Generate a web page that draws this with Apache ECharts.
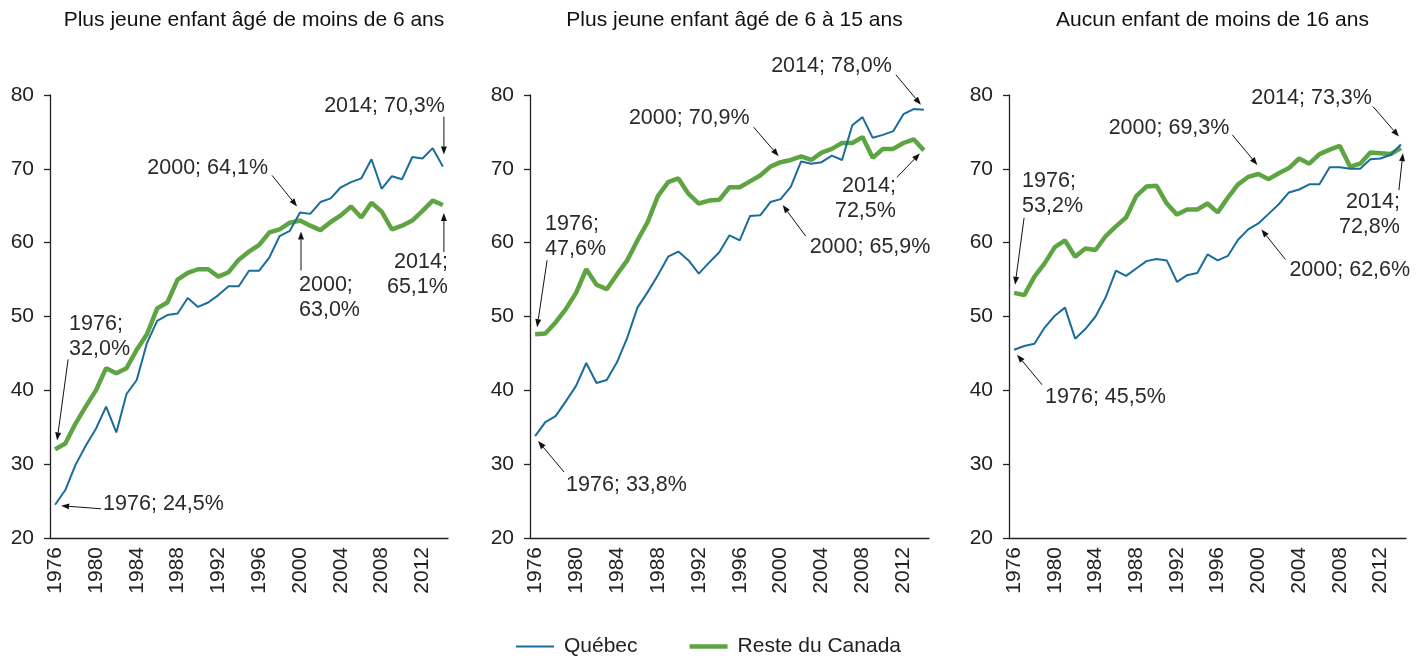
<!DOCTYPE html>
<html>
<head>
<meta charset="utf-8">
<script src="https://cdn.jsdelivr.net/npm/echarts@6/dist/echarts.min.js"></script>
<style>
  html, body { margin: 0; padding: 0; background: #fff; }
  #chart { width: 1426px; height: 656px; }
</style>
</head>
<body>
<div id="chart"></div>
<script>
// années 1976 à 2014
const years = [];
for (let y = 1976; y <= 2014; y++) years.push(String(y));

const titles = [
  'Plus jeune enfant âgé de moins de 6 ans',
  'Plus jeune enfant âgé de 6 à 15 ans',
  'Aucun enfant de moins de 16 ans'
];

// Plus jeune enfant < 6 ans
const quebecMoins6 = [24.5, 26.5, 29.9, 32.5, 34.8, 37.8, 34.3, 39.5, 41.4, 46.4, 49.4, 50.2, 50.4, 52.5, 51.3, 51.9, 52.9, 54.1, 54.1, 56.2, 56.2, 58.0, 60.9, 61.6, 64.1, 63.9, 65.5, 66.0, 67.5, 68.2, 68.7, 71.3, 67.3, 69.0, 68.6, 71.6, 71.4, 72.8, 70.3];
const rcMoins6 = [32.0, 32.8, 35.5, 37.8, 40.0, 43.0, 42.3, 43.0, 45.5, 47.6, 51.1, 51.9, 55.0, 55.9, 56.4, 56.4, 55.4, 56.0, 57.7, 58.8, 59.7, 61.4, 61.8, 62.7, 63.0, 62.3, 61.7, 62.8, 63.7, 64.9, 63.4, 65.4, 64.2, 61.8, 62.3, 63.0, 64.3, 65.7, 65.1];

// Plus jeune enfant 6 à 15 ans
const quebec6a15 = [33.8, 35.7, 36.5, 38.5, 40.6, 43.7, 41.0, 41.4, 43.8, 47.1, 51.2, 53.3, 55.6, 58.1, 58.8, 57.6, 55.8, 57.3, 58.7, 61.0, 60.3, 63.6, 63.7, 65.5, 65.9, 67.6, 71.0, 70.7, 70.9, 71.8, 71.2, 75.9, 77.0, 74.2, 74.6, 75.1, 77.4, 78.1, 78.0];
const rc6a15 = [47.6, 47.7, 49.2, 51.0, 53.2, 56.4, 54.3, 53.7, 55.7, 57.6, 60.3, 62.8, 66.3, 68.2, 68.7, 66.6, 65.3, 65.7, 65.8, 67.5, 67.5, 68.3, 69.1, 70.3, 70.9, 71.2, 71.7, 71.2, 72.2, 72.7, 73.5, 73.5, 74.3, 71.5, 72.7, 72.7, 73.5, 74.0, 72.5];

// Aucun enfant < 16 ans
const quebecAucun = [45.5, 46.0, 46.3, 48.5, 50.1, 51.2, 47.0, 48.3, 50.0, 52.6, 56.2, 55.5, 56.5, 57.5, 57.8, 57.6, 54.7, 55.6, 55.9, 58.4, 57.6, 58.2, 60.4, 61.8, 62.6, 63.9, 65.2, 66.8, 67.2, 67.9, 67.9, 70.2, 70.2, 70.0, 70.0, 71.3, 71.4, 71.9, 73.3];
const rcAucun = [53.2, 52.9, 55.4, 57.2, 59.4, 60.3, 58.1, 59.2, 59.0, 60.9, 62.2, 63.4, 66.3, 67.6, 67.7, 65.3, 63.8, 64.5, 64.5, 65.3, 64.1, 66.1, 67.9, 68.9, 69.3, 68.6, 69.4, 70.1, 71.4, 70.7, 72.0, 72.6, 73.1, 70.3, 70.7, 72.2, 72.1, 72.0, 72.8];

const quebecData = [quebecMoins6, quebec6a15, quebecAucun];
const rcData = [rcMoins6, rc6a15, rcAucun];

const yTicks = { min: 20, max: 80, interval: 10 };

const BLUE = '#1a6c9a';
const GREEN = '#5ea443';
const FONT = '"Liberation Sans", Arial, sans-serif';

// annotations : panneau, série (0 = Québec, 1 = RC), année, texte
// tx/ty : position du texte par rapport au point, from/to : flèche par rapport au point
const notes = [
  {g: 0, s: 0, year: '1976', text: '1976; 24,5%', tx: 48, ty: -1, align: 'left', from: [46, 4], to: [6, 1]},
  {g: 0, s: 1, year: '1976', text: '1976;\n32,0%', tx: 14, ty: -113, align: 'left', from: [13, -90], to: [2, -9]},
  {g: 0, s: 0, year: '2000', text: '2000; 64,1%', tx: -32, ty: -44, align: 'right', from: [-28, -37], to: [-3, -6]},
  {g: 0, s: 1, year: '2000', text: '2000;\n63,0%', tx: -1, ty: 77, align: 'left', from: [1, 50], to: [1, 11]},
  {g: 0, s: 0, year: '2014', text: '2014; 70,3%', tx: 2, ty: -61, align: 'right', from: [1, -50], to: [1, -12]},
  {g: 0, s: 1, year: '2014', text: '2014;\n65,1%', tx: 5, ty: 70, align: 'right', from: [1, 47], to: [1, 8]},

  {g: 1, s: 1, year: '1976', text: '1976;\n47,6%', tx: 10, ty: -98, align: 'left', from: [12, -74], to: [2, -7]},
  {g: 1, s: 0, year: '1976', text: '1976; 33,8%', tx: 31, ty: 49, align: 'left', from: [29, 36], to: [3, 5]},
  {g: 1, s: 1, year: '2000', text: '2000; 70,9%', tx: -31, ty: -44, align: 'right', from: [-27, -35], to: [-2, -6]},
  {g: 1, s: 0, year: '2000', text: '2000; 65,9%', tx: 29, ty: 48, align: 'left', from: [25, 37], to: [2, 6]},
  {g: 1, s: 0, year: '2014', text: '2014; 78,0%', tx: -32, ty: -44, align: 'right', from: [-28, -35], to: [-3, -5]},
  {g: 1, s: 1, year: '2014', text: '2014;\n72,5%', tx: -28, ty: 48, align: 'right', from: [-27, 27], to: [-4, 3]},

  {g: 2, s: 1, year: '1976', text: '1976;\n53,2%', tx: 8, ty: -99, align: 'left', from: [10, -75], to: [1, -8]},
  {g: 2, s: 0, year: '1976', text: '1976; 45,5%', tx: 31, ty: 47, align: 'left', from: [28, 35], to: [3, 5]},
  {g: 2, s: 1, year: '2000', text: '2000; 69,3%', tx: -29, ty: -46, align: 'right', from: [-26, -39], to: [-1, -9]},
  {g: 2, s: 0, year: '2000', text: '2000; 62,6%', tx: 31, ty: 47, align: 'left', from: [27, 36], to: [3, 6]},
  {g: 2, s: 0, year: '2014', text: '2014; 73,3%', tx: -29, ty: -46, align: 'right', from: [-28, -38], to: [-2, -8]},
  {g: 2, s: 1, year: '2014', text: '2014;\n72,8%', tx: -1, ty: 66, align: 'right', from: [-2, 42], to: [2, 5]}
];

const grids = [
  {left: 50, top: 95, width: 398, height: 443},
  {left: 530, top: 95, width: 399, height: 443},
  {left: 1009, top: 95, width: 397, height: 443}
];

const chart = echarts.init(document.getElementById('chart'));

const xAxis = [], yAxis = [], series = [], title = [];
grids.forEach((g, i) => {
  title.push({
    text: titles[i], left: g.left + g.width / 2, top: 5, textAlign: 'center',
    textStyle: {fontFamily: FONT, fontSize: 21, fontWeight: 'normal', color: '#111'}
  });
  xAxis.push({
    type: 'category', gridIndex: i, data: years, boundaryGap: true,
    axisLine: {lineStyle: {color: '#222', width: 1.3}},
    axisTick: {interval: 0, length: 6, lineStyle: {color: '#222', width: 1.3}},
    axisLabel: {interval: 3, rotate: 90, margin: 9, fontFamily: FONT, fontSize: 21, color: '#222'}
  });
  yAxis.push({
    type: 'value', gridIndex: i, min: yTicks.min, max: yTicks.max, interval: yTicks.interval,
    splitLine: {show: false},
    axisLine: {show: true, lineStyle: {color: '#222', width: 1.3}},
    axisTick: {show: true, length: 6, lineStyle: {color: '#222', width: 1.3}},
    axisLabel: {margin: 16, fontFamily: FONT, fontSize: 21, color: '#222'}
  });
  series.push({
    name: 'Québec', type: 'line', xAxisIndex: i, yAxisIndex: i, data: quebecData[i],
    symbol: 'none', lineStyle: {color: BLUE, width: 2}, itemStyle: {color: BLUE}, z: 3
  });
  series.push({
    name: 'Reste du Canada', type: 'line', xAxisIndex: i, yAxisIndex: i, data: rcData[i],
    symbol: 'none', lineStyle: {color: GREEN, width: 4.5}, itemStyle: {color: GREEN}, z: 2
  });
});

chart.setOption({
  animation: false,
  title: title,
  grid: grids,
  xAxis: xAxis,
  yAxis: yAxis,
  legend: {
    top: 631, left: 511, itemGap: 52, itemWidth: 38, itemHeight: 14,
    textStyle: {fontFamily: FONT, fontSize: 21, color: '#222', padding: [0, 0, 0, 5]},
    data: [{name: 'Québec', icon: 'path://M0,0 L38,0 L38,2 L0,2 Z'}, {name: 'Reste du Canada', icon: 'path://M0,0 L40,0 L40,4.5 L0,4.5 Z'}]
  },
  series: series
});

// annotations placées à partir des coordonnées des points
const elements = [];
notes.forEach(n => {
  const vals = (n.s === 0 ? quebecData : rcData)[n.g];
  const idx = years.indexOf(n.year);
  const p = chart.convertToPixel({gridIndex: n.g}, [n.year, vals[idx]]);
  elements.push({
    type: 'text', x: p[0] + n.tx, y: p[1] + n.ty, z: 10,
    style: {text: n.text, fill: '#2a2a2a', font: '21.5px ' + FONT, align: n.align, verticalAlign: 'middle', lineHeight: 25}
  });
  const x1 = p[0] + n.from[0], y1 = p[1] + n.from[1];
  const x2 = p[0] + n.to[0], y2 = p[1] + n.to[1];
  const ang = Math.atan2(y2 - y1, x2 - x1);
  const L = 8, W = 3;
  const bx = x2 - L * Math.cos(ang), by = y2 - L * Math.sin(ang);
  elements.push({
    type: 'line', z: 10,
    shape: {x1: x1, y1: y1, x2: bx, y2: by},
    style: {stroke: '#111', lineWidth: 1}
  });
  elements.push({
    type: 'polygon', z: 10,
    shape: {points: [[x2, y2], [bx + W * Math.sin(ang), by - W * Math.cos(ang)], [bx - W * Math.sin(ang), by + W * Math.cos(ang)]]},
    style: {fill: '#111'}
  });
});
chart.setOption({graphic: elements});
</script>
</body>
</html>
